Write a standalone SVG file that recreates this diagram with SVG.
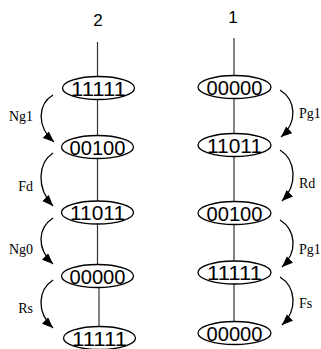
<svg xmlns="http://www.w3.org/2000/svg" width="321" height="349" viewBox="0 0 321 349">
  <style>
    .bg { fill: #ffffff; }
    .stem { stroke: #333333; stroke-width: 1.2; fill: none; }
    .node ellipse { fill: #ffffff; stroke: #000000; stroke-width: 1.3; }
    .node text { font-family: "Liberation Sans", Arial, sans-serif; font-size: 21px; text-anchor: middle; fill: #000000; }
    .title { font-family: "Liberation Sans", Arial, sans-serif; font-size: 17px; text-anchor: middle; fill: #000000; }
    .arc { stroke: #000000; stroke-width: 1.3; fill: none; marker-end: url(#head); }
    .lbl { font-family: "Liberation Serif", "Times New Roman", serif; font-size: 14px; fill: #000000; }
    .lbl-l { text-anchor: end; }
    .lbl-r { text-anchor: start; }
  </style>
  <defs>
    <marker id="head" markerUnits="userSpaceOnUse" markerWidth="12" markerHeight="10" refX="11" refY="4.5" orient="auto">
      <path d="M0,0 L11,4.5 L0,9 Z" fill="#000000"/>
    </marker>
  </defs>
  <rect class="bg" x="0" y="0" width="321" height="349"/>

  <text class="title" x="98" y="26">2</text>
  <text class="title" x="233" y="23">1</text>

  <g id="stems">
    <line class="stem" x1="97.5" y1="42" x2="97.5" y2="270"/>
    <line class="stem" x1="99" y1="280" x2="99" y2="330"/>
    <line class="stem" x1="234" y1="38" x2="234" y2="325"/>
  </g>

  <g id="connectors">
    <path class="arc" d="M53,95 C38,104 36,126 54,142"/>
    <path class="arc" d="M53,153 C38,163 36,188 53,206"/>
    <path class="arc" d="M53,218 C38,228 36,248 53,264"/>
    <path class="arc" d="M53,280 C38,290 36,312 53,328"/>
    <path class="arc" d="M280,90 C296,100 298,122 281,137"/>
    <path class="arc" d="M280,150 C296,160 298,185 282,201"/>
    <path class="arc" d="M280,220 C296,230 298,252 282,267"/>
    <path class="arc" d="M280,277 C296,287 298,310 282,325"/>
  </g>

  <g id="labels">
    <text class="lbl lbl-l" x="33" y="121">Ng1</text>
    <text class="lbl lbl-l" x="33" y="191">Fd</text>
    <text class="lbl lbl-l" x="33" y="254">Ng0</text>
    <text class="lbl lbl-l" x="33" y="313">Rs</text>
    <text class="lbl lbl-r" x="299" y="118">Pg1</text>
    <text class="lbl lbl-r" x="299" y="188">Rd</text>
    <text class="lbl lbl-r" x="299" y="254">Pg1</text>
    <text class="lbl lbl-r" x="299" y="308">Fs</text>
  </g>

  <g id="n2a" class="node"><ellipse cx="98.5" cy="88" rx="36" ry="11.5"/><text x="98.5" y="95.5" textLength="55" lengthAdjust="spacingAndGlyphs">11111</text></g>
  <g id="n2b" class="node"><ellipse cx="97.5" cy="147" rx="36" ry="11.5"/><text x="97.5" y="154.5" textLength="56" lengthAdjust="spacingAndGlyphs">00100</text></g>
  <g id="n2c" class="node"><ellipse cx="97.5" cy="212.5" rx="36" ry="11.5"/><text x="97.5" y="220" textLength="55" lengthAdjust="spacingAndGlyphs">11011</text></g>
  <g id="n2d" class="node"><ellipse cx="97.5" cy="276" rx="36" ry="11.5"/><text x="97.5" y="283.5" textLength="56" lengthAdjust="spacingAndGlyphs">00000</text></g>
  <g id="n2e" class="node"><ellipse cx="99.5" cy="338" rx="36" ry="11.5"/><text x="99.5" y="345.5" textLength="55" lengthAdjust="spacingAndGlyphs">11111</text></g>

  <g id="n1a" class="node"><ellipse cx="234.5" cy="87" rx="36.5" ry="11.5"/><text x="234.5" y="94.5" textLength="56" lengthAdjust="spacingAndGlyphs">00000</text></g>
  <g id="n1b" class="node"><ellipse cx="234.5" cy="145" rx="36.5" ry="11.5"/><text x="234.5" y="152.5" textLength="55" lengthAdjust="spacingAndGlyphs">11011</text></g>
  <g id="n1c" class="node"><ellipse cx="234.5" cy="213" rx="36.5" ry="11.5"/><text x="234.5" y="220.5" textLength="56" lengthAdjust="spacingAndGlyphs">00100</text></g>
  <g id="n1d" class="node"><ellipse cx="234.5" cy="272.5" rx="36.5" ry="11.5"/><text x="234.5" y="280" textLength="55" lengthAdjust="spacingAndGlyphs">11111</text></g>
  <g id="n1e" class="node"><ellipse cx="234.5" cy="333" rx="36.5" ry="11.5"/><text x="234.5" y="340.5" textLength="56" lengthAdjust="spacingAndGlyphs">00000</text></g>
</svg>
